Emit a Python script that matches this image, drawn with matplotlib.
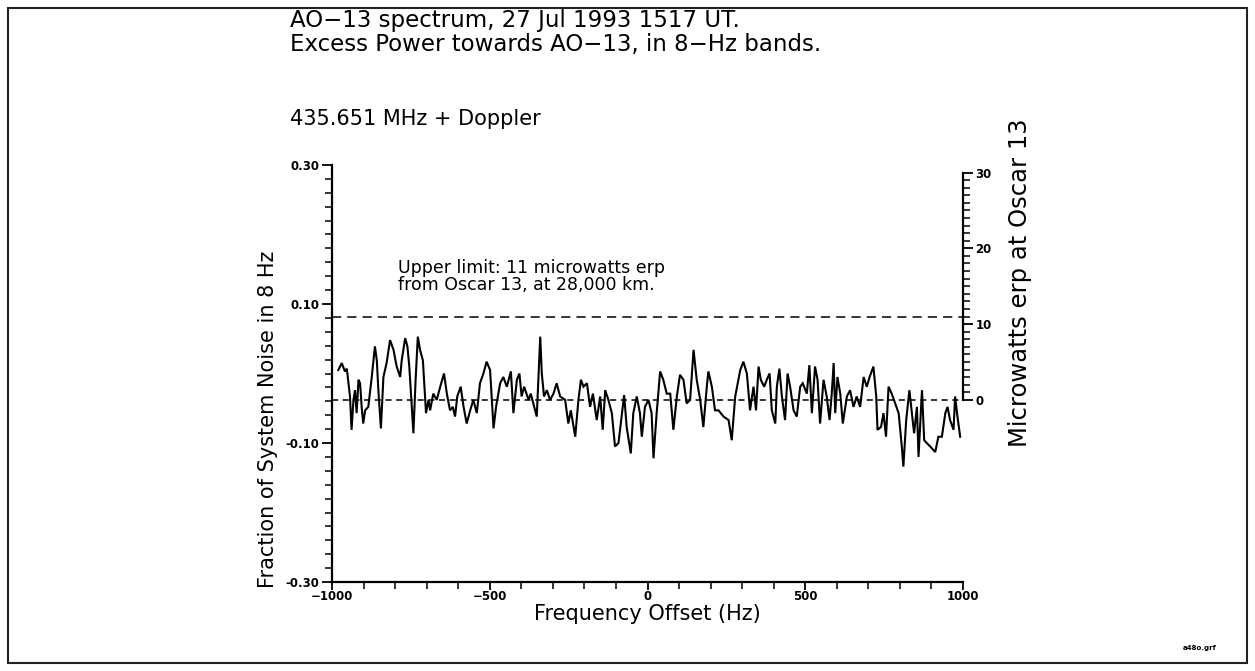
import matplotlib
matplotlib.use('Agg')
import matplotlib.pyplot as plt
from matplotlib.ticker import MultipleLocator, FixedLocator, FormatStrFormatter
from matplotlib.patches import Rectangle

# ---------------- data ----------------
freq_hz = [
    -980, -969, -959, -953, -943, -938, -932, -927, -922, -916, -911, -906, -901, -895,
    -885, -874, -864, -858, -853, -845, -837, -827, -816, -805, -795, -784, -779, -768,
    -761, -755, -742, -735, -728, -721, -712, -702, -694, -689, -679, -668, -657, -645,
    -636, -626, -617, -610, -603, -592, -583, -573, -562, -552, -541, -531, -520, -510,
    -499, -488, -480, -467, -457, -446, -433, -425, -414, -406, -399, -391, -377, -370,
    -356, -351, -340, -335, -328, -319, -309, -298, -288, -277, -261, -251, -243, -229,
    -219, -211, -203, -192, -182, -173, -161, -150, -142, -134, -124, -113, -103, -92,
    -81, -74, -66, -53, -45, -34,
    -24, -18, -8, 3, 13, 19, 29, 40, 50, 61, 72, 82, 93, 103, 114, 124, 135, 146, 156,
    167, 177, 188, 193, 204, 214, 225, 241, 257, 267, 278, 294, 304, 315, 325, 336, 344,
    352, 359, 370, 378, 387, 394, 405, 410, 418, 426, 436, 444, 452, 463, 473, 484, 492,
    505, 513, 521, 531, 539, 547, 558, 568, 577, 584, 590, 595, 602, 611, 619, 632, 642,
    653, 663, 674, 685, 695, 704, 716, 725, 729, 740, 748, 756, 764, 774, 785, 796, 806,
    811, 820, 830, 838, 845, 854, 859, 870, 877, 885, 896, 912, 922, 933, 944, 951, 959,
    970, 975, 981, 991,
]
fraction = [
    0.005, 0.015, 0.003, 0.007, -0.033, -0.081, -0.038, -0.024, -0.057, -0.009, -0.014, -0.048, -0.072, -0.053,
    -0.048, -0.005, 0.039, 0.019, -0.024, -0.079, -0.005, 0.015, 0.048, 0.034, 0.010, -0.005, 0.019, 0.051,
    0.039, 0.010, -0.086, -0.009, 0.053, 0.034, 0.019, -0.057, -0.038, -0.053, -0.029, -0.038, -0.019, 0.000,
    -0.029, -0.053, -0.048, -0.062, -0.033, -0.019, -0.048, -0.072, -0.053, -0.038, -0.057, -0.014, 0.000, 0.017,
    0.005, -0.079, -0.048, -0.014, -0.005, -0.019, 0.003, -0.057, -0.009, 0.000, -0.033, -0.019, -0.038, -0.029,
    -0.053, -0.062, 0.053, 0.000, -0.033, -0.024, -0.038, -0.029, -0.014, -0.033, -0.038, -0.072, -0.053, -0.091,
    -0.038, -0.009, -0.019, -0.014, -0.048, -0.029, -0.067, -0.033, -0.081, -0.024, -0.038, -0.057, -0.105, -0.100,
    -0.057, -0.031, -0.077, -0.115, -0.057, -0.033,
    -0.057, -0.091, -0.048, -0.038, -0.057, -0.122, -0.057, 0.003, -0.009, -0.029, -0.029, -0.081, -0.033, -0.002, -0.009, -0.043, -0.038, 0.034, -0.009,
    -0.038, -0.077, -0.019, 0.003, -0.019, -0.053, -0.053, -0.062, -0.067, -0.096, -0.033, 0.005, 0.017, 0.000, -0.053, -0.019, -0.053,
    0.010, -0.009, -0.019, -0.009, 0.000, -0.053, -0.072, -0.019, 0.007, -0.033, -0.067, 0.000, -0.019, -0.053, -0.062, -0.019, -0.014,
    -0.029, 0.012, -0.057, 0.010, -0.009, -0.072, -0.009, -0.033, -0.067, -0.029, 0.015, -0.057, -0.005, -0.029, -0.072, -0.033, -0.024,
    -0.048, -0.033, -0.048, -0.005, -0.019, -0.005, 0.010, -0.033, -0.081, -0.077, -0.057, -0.091, -0.019, -0.029, -0.043, -0.057, -0.105,
    -0.134, -0.067, -0.024, -0.057, -0.086, -0.048, -0.120, -0.024, -0.096, -0.100, -0.105, -0.113, -0.091, -0.091, -0.057, -0.048, -0.067,
    -0.081, -0.033, -0.057, -0.091,
]

upper_limit_frac = 0.082      # 11 microwatts erp level
zero_erp_frac = -0.038        # 0 microwatts erp level
erp_per_frac = 91.7           # microwatts per unit fraction

x_ticks = [-1000, -500, 0, 500, 1000]
left_ticks = [-0.30, -0.10, 0.10, 0.30]
right_ticks = [0, 10, 20, 30]
right_minor = [v for v in range(0, 31) if v % 10]

title_lines = ["AO\u221213 spectrum, 27 Jul 1993 1517 UT.",
               "Excess Power towards AO\u221213, in 8\u2212Hz bands."]
subtitle = "435.651 MHz + Doppler"
note_lines = ["Upper limit: 11 microwatts erp",
              "from Oscar 13, at 28,000 km."]

# ---------------- figure ----------------
plt.rcParams['font.family'] = ['DejaVu Sans']
W, H = 1255, 671
fig = plt.figure(figsize=(W / 100, H / 100), dpi=100)

# outer frame of the page
fig.patches.append(Rectangle((8 / W, 8 / H), 1 - 16 / W, 1 - 16 / H,
                             transform=fig.transFigure, fill=False,
                             edgecolor='#222222', lw=1.5))

ax = fig.add_axes([332 / W, 89 / H, 631 / W, 417 / H])
ax.plot(freq_hz, fraction, color='black', lw=1.5, solid_joinstyle='miter')
ax.axhline(upper_limit_frac, color='black', lw=1.1, ls=(0, (6, 4)))
ax.axhline(zero_erp_frac, color='black', lw=1.1, ls=(0, (4, 3)))

ax.set_xlim(-1000, 1000)
ax.set_ylim(-0.30, 0.30)
for s in ('top', 'right'):
    ax.spines[s].set_visible(False)
for s in ('left', 'bottom'):
    ax.spines[s].set_linewidth(1.6)

ax.xaxis.set_major_locator(FixedLocator(x_ticks))
ax.xaxis.set_minor_locator(MultipleLocator(100))
ax.yaxis.set_major_locator(FixedLocator(left_ticks))
ax.yaxis.set_minor_locator(MultipleLocator(0.02))
ax.yaxis.set_major_formatter(FormatStrFormatter('%.2f'))
ax.tick_params(axis='y', which='major', direction='out', length=7, width=1.3,
               labelsize=8.5, pad=2)
ax.tick_params(axis='y', which='minor', direction='out', length=5, width=1.1)
ax.tick_params(axis='x', which='major', direction='out', length=6, width=1.3,
               labelsize=8.5, pad=0)
ax.tick_params(axis='x', which='minor', direction='out', length=5, width=1.1)
for lab in ax.get_xticklabels() + ax.get_yticklabels():
    lab.set_fontweight('bold')

ax.set_xlabel("Frequency Offset (Hz)", fontsize=15)
ax.xaxis.set_label_coords(0.5, -0.052)
ax.set_ylabel("Fraction of System Noise in 8 Hz", fontsize=15)
ax.yaxis.set_label_coords(-0.085, 0.39)

ax.text(-790, 0.152, note_lines[0], fontsize=12.5, ha='left', va='center')
ax.text(-790, 0.127, note_lines[1], fontsize=12.5, ha='left', va='center')

# right axis: microwatts erp at Oscar 13
ax2 = ax.twinx()
ax2.set_ylim((-0.30 - zero_erp_frac) * erp_per_frac,
             (0.30 - zero_erp_frac) * erp_per_frac)
for s in ('top', 'left', 'bottom'):
    ax2.spines[s].set_visible(False)
ax2.spines['right'].set_bounds(0, 30)
ax2.spines['right'].set_linewidth(1.6)
ax2.yaxis.set_major_locator(FixedLocator(right_ticks))
ax2.yaxis.set_minor_locator(FixedLocator(right_minor))
ax2.tick_params(which='major', direction='out', length=7, width=1.3,
                labelsize=8.5, pad=2)
ax2.tick_params(which='minor', direction='out', length=5, width=1.1)
for lab in ax2.get_yticklabels():
    lab.set_fontweight('bold')
ax2.set_ylabel("Microwatts erp at Oscar 13", fontsize=17.5, rotation=90)
ax2.yaxis.set_label_coords(1.072, 0.717)

# header text
fig.text(290 / W, 1 - 20 / H, title_lines[0], fontsize=16.5, ha='left', va='center')
fig.text(290 / W, 1 - 44 / H, title_lines[1], fontsize=16.5, ha='left', va='center')
fig.text(290 / W, 1 - 119 / H, subtitle, fontsize=15, ha='left', va='center')
fig.text(1200 / W, 1 - 648 / H, "a48o.grf", fontsize=5, ha='center',
         va='center', fontweight='bold')

fig.savefig("out.png", dpi=100)
